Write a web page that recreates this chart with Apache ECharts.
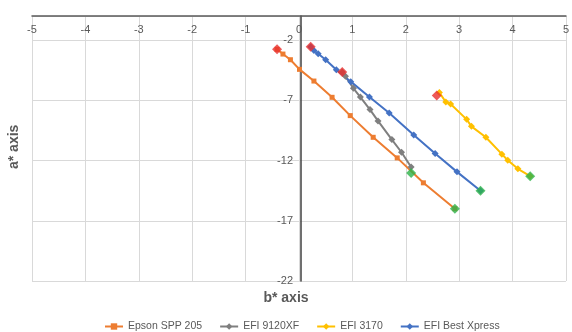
<!DOCTYPE html>
<html>
<head>
<meta charset="utf-8">
<script src="https://cdn.jsdelivr.net/npm/echarts@6/dist/echarts.min.js"></script>
<style>
  html, body { margin: 0; padding: 0; background: #fff; }
  #chart { width: 572px; height: 332px; }
</style>
</head>
<body>
<div id="chart"></div>
<script>
// b*, a* pairs
const epson = [[-0.41, -2.77], [-0.30, -3.16], [-0.16, -3.63], [0.01, -4.43], [0.28, -5.40], [0.62, -6.75], [0.96, -8.27], [1.39, -10.07], [1.84, -11.78], [2.33, -13.85], [2.92, -16.0]]
const efi9120 = [[0.81, -4.65], [0.87, -5.01], [1.02, -6.0], [1.15, -6.73], [1.33, -7.77], [1.48, -8.71], [1.74, -10.26], [1.92, -11.31], [2.10, -12.53]]
const efi3170 = [[2.63, -6.36], [2.75, -7.14], [2.84, -7.31], [3.14, -8.58], [3.23, -9.16], [3.50, -10.07], [3.80, -11.47], [3.91, -11.97], [4.10, -12.69], [4.33, -13.30]]
const efiBest = [[0.22, -2.55], [0.28, -2.86], [0.36, -3.13], [0.50, -3.63], [0.70, -4.46], [0.97, -5.45], [1.32, -6.72], [1.69, -8.05], [2.15, -9.87], [2.55, -11.42], [2.96, -12.94], [3.40, -14.51]]
// first and last measurements, marked red / green
const startPts = [[-0.41, -2.77], [0.81, -4.65], [2.58, -6.59], [0.22, -2.55]]
const endPts = [[2.92, -16.0], [2.10, -13.03], [4.33, -13.30], [3.40, -14.51]]

const seriesNames = ['Epson SPP 205', 'EFI 9120XF', 'EFI 3170', 'EFI Best Xpress']
const xTicks = { min: -5, max: 5, step: 1 }
const yTicks = { min: -22, max: 0, step: 5 }

const font = 'Liberation Sans, Arial, sans-serif'
const textGrey = '#595959'
const gridLeft = 32
const gridRight = 2
const chartWidth = 572

function lineSeries (name, data, color, symbol, size) {
  return {
    name: name,
    type: 'line',
    data: data,
    symbol: symbol,
    symbolSize: size,
    itemStyle: { color: color },
    lineStyle: { color: color, width: 2 },
    z: 3
  }
}

// the a* axis sits on b* = 0, so shift it in from the grid's left edge
const plotW = chartWidth - gridLeft - gridRight
const zeroOffset = plotW * (0 - xTicks.min) / (xTicks.max - xTicks.min)

const myChart = echarts.init(document.getElementById('chart'))
myChart.setOption({
  animation: false,
  textStyle: { fontFamily: font },
  grid: { left: gridLeft, right: gridRight, top: 16, bottom: 51 },
  legend: {
    data: seriesNames,
    top: 316,
    left: 99,
    itemWidth: 18,
    itemHeight: 8,
    itemGap: 17,
    textStyle: { color: textGrey, fontSize: 10.5, fontFamily: font }
  },
  graphic: [
    {
      type: 'text',
      left: 'center',
      top: 291,
      style: { text: 'b* axis', font: 'bold 14px ' + font, fill: textGrey }
    },
    {
      type: 'text',
      x: 7,
      y: 169,
      rotation: Math.PI / 2,
      style: { text: 'a* axis', font: 'bold 14px ' + font, fill: textGrey }
    }
  ],
  xAxis: {
    type: 'value',
    position: 'top',
    min: xTicks.min,
    max: xTicks.max,
    interval: xTicks.step,
    axisLine: { onZero: true, lineStyle: { color: '#595959', width: 1.5 } },
    axisTick: { show: false },
    axisLabel: { inside: true, margin: 8, color: textGrey, fontSize: 11 },
    splitLine: { lineStyle: { color: '#d9d9d9', width: 1 } }
  },
  yAxis: {
    type: 'value',
    min: yTicks.min,
    max: yTicks.max,
    interval: yTicks.step,
    offset: -zeroOffset,
    axisLine: { onZero: false, lineStyle: { color: '#404040', width: 1.5 } },
    axisTick: { show: false },
    axisLabel: {
      margin: 8,
      color: textGrey,
      fontSize: 11,
      formatter: function (v) { return v === 0 ? '' : String(v) }
    },
    splitLine: { lineStyle: { color: '#d9d9d9', width: 1 } }
  },
  series: [
    lineSeries(seriesNames[0], epson, '#ED7D31', 'rect', 5),
    lineSeries(seriesNames[1], efi9120, '#7F7F7F', 'diamond', 7),
    lineSeries(seriesNames[2], efi3170, '#FFC000', 'diamond', 7),
    lineSeries(seriesNames[3], efiBest, '#4472C4', 'diamond', 7),
    {
      name: 'start',
      type: 'scatter',
      data: startPts,
      symbol: 'diamond',
      symbolSize: 10,
      itemStyle: { color: '#E8302E' },
      z: 5
    },
    {
      name: 'end',
      type: 'scatter',
      data: endPts,
      symbol: 'diamond',
      symbolSize: 10,
      itemStyle: { color: '#2DB34A' },
      z: 5
    }
  ]
})
</script>
</body>
</html>
